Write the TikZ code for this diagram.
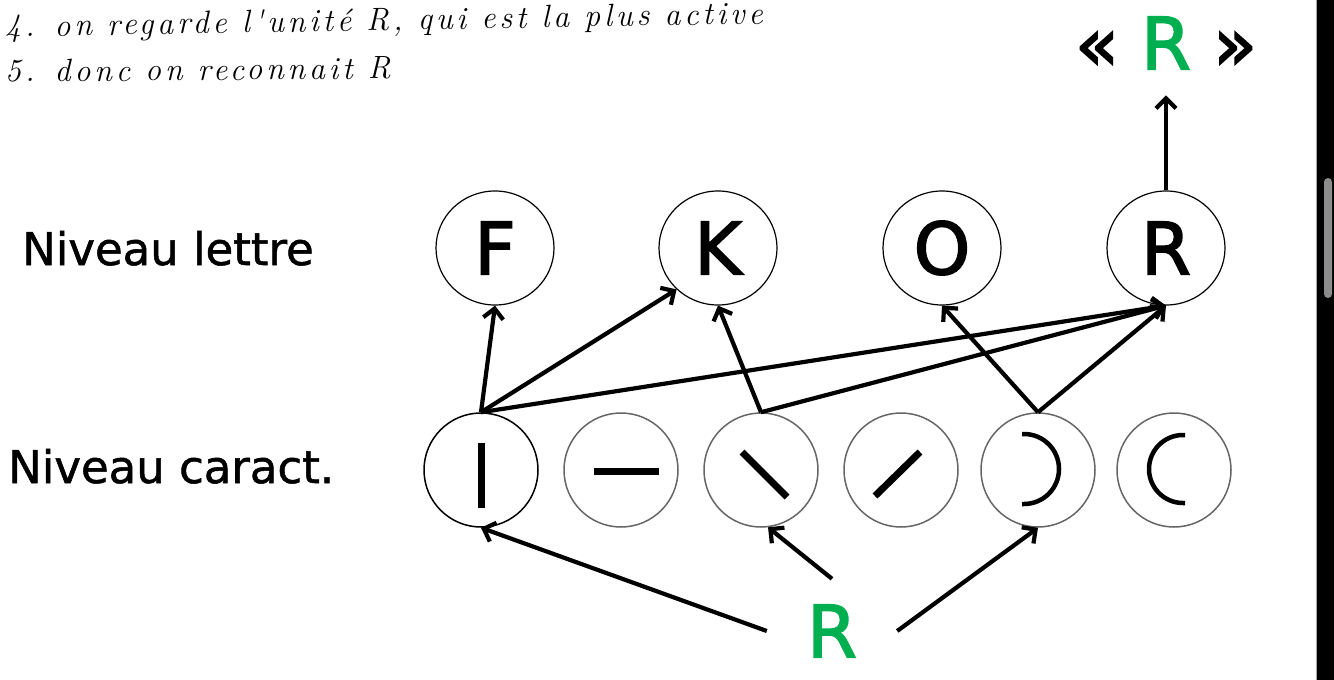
\documentclass[tikz,border=0pt]{standalone}
\usepackage{fontspec}
\usetikzlibrary{arrows.meta, shapes.geometric}

\newfontfamily\dejavu{DejaVu Sans}[FakeBold=1.2]
\newfontfamily\dejavugras{DejaVu Sans}[FakeBold=2.2]
\newfontfamily\notefam{Latin Modern Roman}[LetterSpace=12]
\newcommand\grosfont{\dejavugras\fontsize{72}{80}\selectfont}
\newcommand\niveaufont{\dejavu\fontsize{45}{50}\selectfont}
\newcommand\notefont{\notefam\itshape\fontsize{32}{36}\selectfont}
\definecolor{vert}{HTML}{00B050}

\tikzset{
  lettre/.style={ellipse, draw, line width=1.2pt, minimum width=118pt,
    minimum height=114pt, inner sep=0pt, font=\grosfont},
  caract/.style={circle, draw=black!60, line width=1.5pt, minimum size=114pt,
    inner sep=0pt},
  lien/.style={-{Straight Barb[length=10pt, width=20pt, line width=0pt 1]},
    line width=4.2pt},
  trait/.style={line width=7pt},
  courbe/.style={line width=4.5pt}
}

\begin{document}
\begin{tikzpicture}[x=1pt, y=-1pt]
  \useasboundingbox (0, 0) rectangle (1334, 680);
  \fill[white] (0, 0) rectangle (1334, 680);

  % notes at the top
  \node[anchor=base west, inner sep=0pt, rotate=1, font=\notefont] (note4)
    at (5, 37) {4. on regarde l'unité R, qui est la plus active};
  \node[anchor=base west, inner sep=0pt, rotate=0.5, font=\notefont] (note5)
    at (5, 82) {5. donc on reconnait R};

  % levels
  \node[anchor=base west, inner sep=0pt, font=\niveaufont] (nivL)
    at (22, 265) {Niveau lettre};
  \node[anchor=base west, inner sep=0pt, font=\niveaufont] (nivC)
    at (8, 483) {Niveau caract.};

  \node[lettre] (lF) at (495, 248) {F};
  \node[lettre] (lK) at (718, 248) {K};
  \node[lettre] (lO) at (942, 248) {O};
  \node[lettre] (lR) at (1166, 248) {R};

  \node[caract, draw=black] (cV) at (481, 470) {};
  \node[caract] (cH) at (621, 470) {};
  \node[caract] (cD) at (761, 470) {};
  \node[caract] (cA) at (901, 470) {};
  \node[caract] (cP) at (1038, 470) {};
  \node[caract] (cQ) at (1174, 470) {};

  \draw[trait] (cV) ++(0, -27) -- ++(0, 65);
  \draw[trait] (cH) ++(-27, 1) -- ++(65, 0);
  \draw[trait] (cD) ++(-19, -18) -- ++(45, 45);
  \draw[trait] (cA) ++(-26, 26) -- ++(45, -44);
  \draw[courbe] (cP) ++(-16, -36) -- ++(2, 0)
    arc[start angle=-90, end angle=90, radius=35] -- ++(-2, 0);
  \draw[courbe] (cQ) ++(11, -35) -- ++(-2, 0)
    arc[start angle=-90, end angle=-270, radius=34] -- ++(2, 0);

  % stimulus and percept
  \node[font=\grosfont, text=vert, minimum width=130pt, minimum height=104pt,
    inner sep=0pt] (stim) at (832, 631) {R};
  \node[font=\grosfont, inner xsep=0pt, inner ysep=26pt] (perc)
    at (1166, 43) {«\hspace{22pt}\textcolor{vert}{R}\hspace{22pt}»};

  \draw[lien] (stim.west) -- (cV.south);
  \draw[lien] (stim.north) -- (cD.-83);
  \draw[lien] (stim.east) -- (cP.south);

  \draw[lien] (cV.north) -- (lF.south);
  \draw[lien] (cV.north) -- (lK.225);
  \draw[lien] (cV.north) -- (lR.south);
  \draw[lien] (cD.north) -- (lK.south);
  \draw[lien] (cD.north) -- (lR.south);
  \draw[lien] (cP.north) -- (lO.south);
  \draw[lien] (cP.north) -- (lR.south);
  \draw[lien] (lR.north) -- (perc.south);

  % scroll bar
  \fill (1316, 0) rectangle (1334, 680);
  \draw[black!35, line width=1pt] (1316, 0) -- (1316, 680);
  \fill[black!45, rounded corners=4pt] (1324, 178) rectangle (1332, 298);
\end{tikzpicture}
\end{document}
